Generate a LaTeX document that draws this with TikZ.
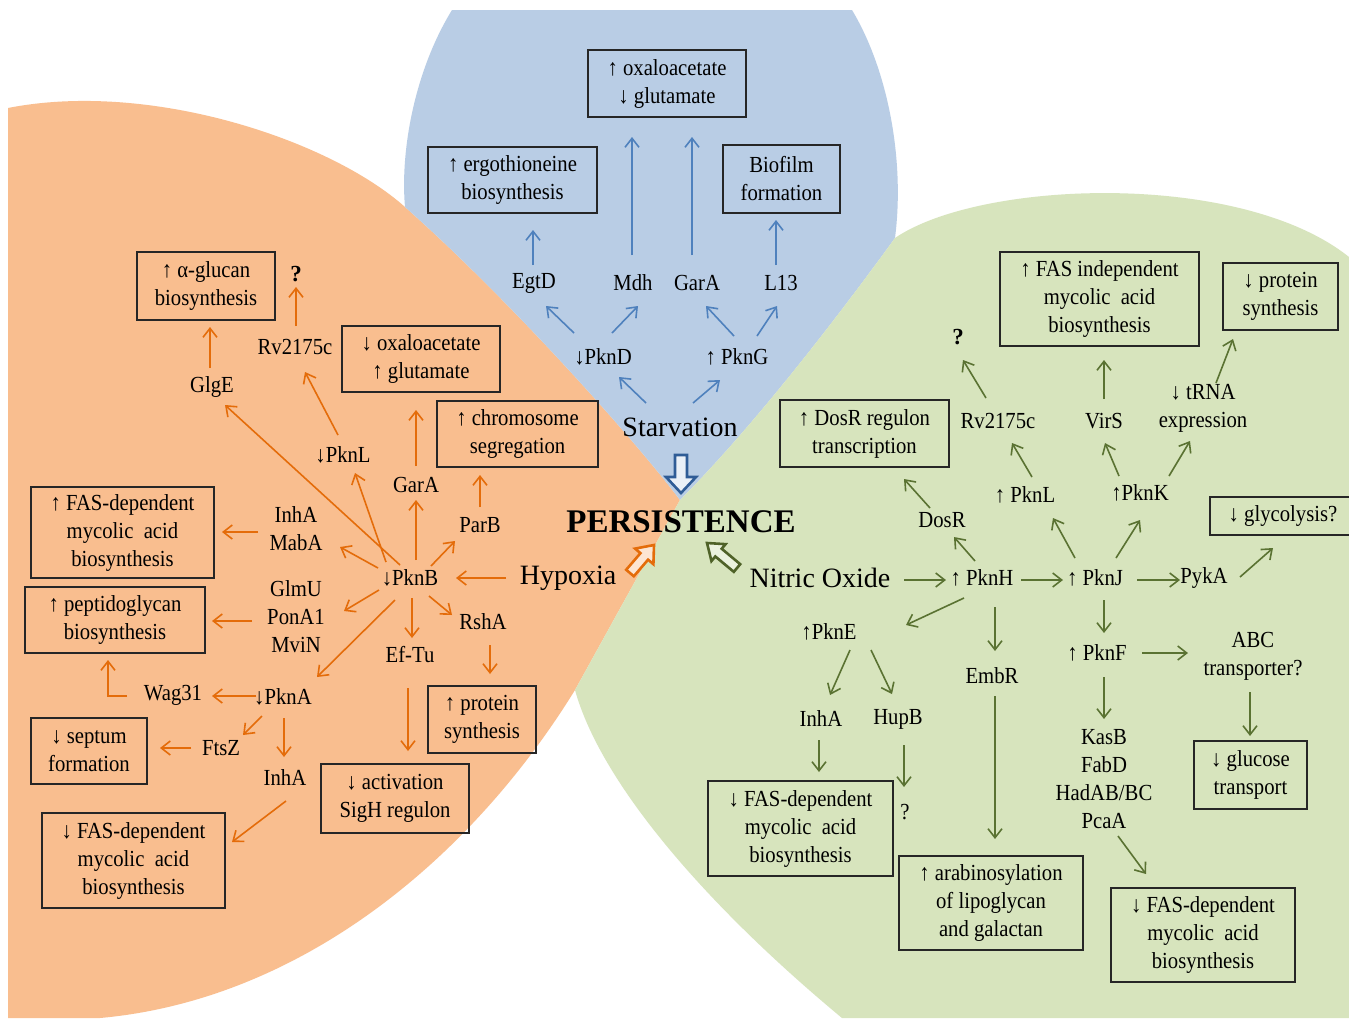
\documentclass[tikz,border=0pt]{standalone}
\usepackage{fontspec}
\setmainfont{Liberation Serif}
\newfontfamily\condf[FakeStretch=0.9]{Liberation Serif}
\usetikzlibrary{arrows.meta}
\definecolor{orfill}{RGB}{249,190,143}
\definecolor{blfill}{RGB}{185,205,229}
\definecolor{grfill}{RGB}{215,228,189}
\definecolor{barrc}{RGB}{79,129,189}
\definecolor{oarrc}{RGB}{228,108,10}
\definecolor{garrc}{RGB}{90,114,50}
\definecolor{bigblue}{RGB}{47,92,150}
\definecolor{biggreen}{RGB}{79,98,40}
\newcommand\myarrow[5]{\draw[#1] ([shift={(#3)}]#2.center) -- ([shift={(#5)}]#4.center);}
\begin{document}
\begin{tikzpicture}[x=0.5pt,y=-0.5pt,
  lbl/.style={font=\condf\fontsize{11.5}{14}\selectfont, align=center, inner sep=0pt, text=black},
  big/.style={font=\fontsize{14}{16}\selectfont, inner sep=0pt, text=black},
  bx/.style 2 args={lbl, draw=black!85, line width=0.9pt, minimum width=#1pt, minimum height=#2pt},
  qq/.style={font=\bfseries\fontsize{11.5}{14}\selectfont, inner sep=0pt},
  tip/.style={-{Straight Barb[length=4.5pt,width=7pt]}},
  barr/.style={draw=barrc, line width=0.8pt, tip},
  oarr/.style={draw=oarrc, line width=0.8pt, tip},
  garr/.style={draw=garrc, line width=0.8pt, tip},
  hollow/.style={line width=1.3pt, line join=miter}]
\useasboundingbox (0,0) rectangle (1349,1018);
\fill[white] (0,0) rectangle (1349,1018);
% regions
\fill[orfill] (680,500) -- (575,690) .. controls (470,860) and (300,1000) .. (100,1018) -- (8,1018) -- (8,108)
  .. controls (150,80) and (330,140) .. (405,207) .. controls (510,300) and (635,440) .. (680,500) -- cycle;
\fill[blfill] (680,500) .. controls (635,440) and (510,300) .. (405,207) .. controls (400,150) and (415,70) .. (452,10)
  -- (852,10) .. controls (888,70) and (905,160) .. (895,238) .. controls (850,300) and (760,420) .. (680,500) -- cycle;
\fill[grfill] (680,500) .. controls (760,420) and (850,300) .. (895,238) .. controls (980,180) and (1240,170) .. (1349,257)
  -- (1349,1018) -- (842,1018) .. controls (700,900) and (600,780) .. (575,690) -- cycle;
% hollow block arrows
\draw[hollow, draw=bigblue, fill=white!70!blfill] (675,455) -- (687,455) -- (687,477) -- (696,477) -- (681,493) -- (666,477) -- (675,477) -- cycle;
\draw[hollow, draw=oarrc, fill=white!60!orfill] (626.2,569.75) -- (633.8,576.25) -- (648.05,559.65) -- (653.4,564.2) -- (654,545) -- (635.1,548.6) -- (640.45,553.15) -- cycle;
\draw[hollow, draw=biggreen, fill=white!50!grfill] (733.8,571.84) -- (740.2,564.16) -- (721.7,548.76) -- (725.54,544.15) -- (707,543) -- (711.46,561.05) -- (715.3,556.44) -- cycle;
% blue nodes
\node[bx={79}{33.5}] (oxaU) at (667,83.5) {↑ oxaloacetate\\↓ glutamate};
\node[bx={84.5}{33}] (ergo) at (512.5,180) {↑ ergothioneine\\biosynthesis};
\node[bx={58.5}{34}] (biofilm) at (781.5,179) {Biofilm\\formation};
\node[lbl] (egtD) at (534,283) {EgtD};
\node[lbl] (mdh) at (633,283) {Mdh};
\node[lbl] (garaB) at (697,283) {GarA};
\node[lbl] (l13) at (781,283) {L13};
\node[lbl] (pknD) at (603,357) {↓PknD};
\node[lbl] (pknG) at (737,357) {↑ PknG};
\node[big] (starv) at (680,427) {Starvation};
% orange nodes
\node[bx={69}{34}] (aglucan) at (206,286) {↑ α-glucan\\biosynthesis};
\node[qq] (qO) at (296,274) {?};
\node[lbl] (rvO) at (295,347) {Rv2175c};
\node[lbl] (glgE) at (212,387) {GlgE};
\node[bx={79}{33}] (oxaD) at (421,359) {↓ oxaloacetate\\↑ glutamate};
\node[bx={80.5}{33}] (chrom) at (517.5,434) {↑ chromosome\\segregation};
\node[lbl] (pknL) at (343,455) {↓PknL};
\node[lbl] (garA) at (416,485) {GarA};
\node[lbl] (parB) at (480,525) {ParB};
\node[lbl] (inhMab) at (296,529) {InhA\\MabA};
\node[bx={91.5}{45.5}] (fasU) at (122.5,532.5) {↑ FAS-dependent\\mycolic~ acid\\biosynthesis};
\node[lbl] (pknB) at (410,578) {↓PknB};
\node[big] (hyp) at (568,578) {Hypoxia};
\node[lbl] (glmU) at (296,617) {GlmU\\PonA1\\MviN};
\node[bx={90}{33}] (pepti) at (115,620) {↑ peptidoglycan\\biosynthesis};
\node[lbl] (rshA) at (483,622) {RshA};
\node[lbl] (efTu) at (410,655) {Ef-Tu};
\node[lbl] (wag31) at (173,695) {Wag31};
\node[lbl] (pknA) at (283,697) {↓PknA};
\node[bx={54}{33.5}] (protO) at (482,719.5) {↑ protein\\synthesis};
\node[bx={58}{33}] (septum) at (89,751) {↓ septum\\formation};
\node[lbl] (ftsZ) at (221,748) {FtsZ};
\node[lbl] (inhA2) at (285,778) {InhA};
\node[bx={74}{34.5}] (sigH) at (395,798.5) {↓ activation\\SigH regulon};
\node[bx={91.5}{47.5}] (fasD) at (133.5,860.5) {↓ FAS-dependent\\mycolic~ acid\\biosynthesis};
% green nodes
\node[bx={99.5}{47}] (fasInd) at (1099.5,299) {↑ FAS independent\\mycolic~ acid\\biosynthesis};
\node[bx={57.5}{33.5}] (protD) at (1280.5,296.5) {↓ protein\\synthesis};
\node[qq] (q2) at (958,337) {?};
\node[lbl] (rv2) at (998,421) {Rv2175c};
\node[lbl] (virS) at (1104,421) {VirS};
\node[lbl] (tRNA) at (1203,408) {↓ tRNA\\expression};
\node[bx={84.5}{33.5}] (dosRbox) at (864.5,433.5) {↑ DosR regulon\\transcription};
\node[lbl] (pknL2) at (1025,495) {↑ PknL};
\node[lbl] (pknK) at (1140,493) {↑PknK};
\node[lbl] (dosR) at (942,520) {DosR};
\node[bx={80}{19}] (glyco) at (1290,516) {↓ glycolysis?\hspace*{7pt}};
\node[big] (no) at (820,578) {Nitric Oxide};
\node[lbl] (pknH) at (982,578) {↑ PknH};
\node[lbl] (pknJ) at (1095,578) {↑ PknJ};
\node[lbl] (pykA) at (1204,578) {PykA};
\node[lbl] (pknE) at (829,632) {↑PknE};
\node[lbl] (embR) at (992,676) {EmbR};
\node[lbl] (pknF) at (1097,653) {↑ PknF};
\node[lbl] (abc) at (1253,656) {ABC\\transporter?};
\node[lbl] (inhA3) at (821,719) {InhA};
\node[lbl] (hupB) at (898,719) {HupB};
\node[lbl] (kasB) at (1104,779) {KasB\\FabD\\HadAB/BC\\PcaA};
\node[lbl] (q3) at (905,812) {?};
\node[bx={56.5}{34}] (glucose) at (1250.5,775) {↓ glucose\\transport};
\node[bx={92.5}{47.5}] (fas3) at (800.5,828.5) {↓ FAS-dependent\\mycolic~ acid\\biosynthesis};
\node[bx={92}{47}] (arab) at (991,903) {↑ arabinosylation\\of lipoglycan\\and galactan};
\node[bx={92}{47}] (fas4) at (1203,935) {↓ FAS-dependent\\mycolic~ acid\\biosynthesis};
% centre
\node[font=\bfseries\fontsize{16.5}{18}\selectfont, inner sep=0pt] (pers) at (681,522) {PERSISTENCE};
% blue arrows
\myarrow{barr}{egtD}{-1,-18}{ergo}{20.5,50}
\myarrow{barr}{mdh}{-1,-28}{oxaU}{-35,53.5}
\myarrow{barr}{garaB}{-5,-28}{oxaU}{25,53.5}
\myarrow{barr}{l13}{-5,-18}{biofilm}{-5.5,41}
\myarrow{barr}{pknD}{-29,-24}{egtD}{12,23}
\myarrow{barr}{pknD}{9,-24}{mdh}{5,23}
\myarrow{barr}{pknG}{-3,-21}{garaB}{9,23}
\myarrow{barr}{pknG}{20,-21}{l13}{-4,23}
\myarrow{barr}{starv}{-34,-24}{pknD}{16,20}
\myarrow{barr}{starv}{13,-24}{pknG}{-17,23}
% orange arrows
\myarrow{oarr}{glgE}{-2,-19}{aglucan}{4,41}
\myarrow{oarr}{rvO}{1,-21}{qO}{0,13}
\myarrow{oarr}{pknB}{-10,-13}{glgE}{13,18}
\myarrow{oarr}{pknL}{-5,-20}{rvO}{10,25}
\myarrow{oarr}{pknB}{-24,-16}{pknL}{12,18}
\myarrow{oarr}{pknB}{6,-18}{garA}{0,15}
\myarrow{oarr}{garA}{0,-19}{oxaD}{-5,51}
\myarrow{oarr}{parB}{0,-18}{chrom}{-37.5,41}
\myarrow{oarr}{pknB}{21,-12}{parB}{-25,16}
\myarrow{oarr}{pknB}{-32,-10}{inhMab}{44,18}
\myarrow{oarr}{inhMab}{-38,3}{fasU}{99.5,-0.5}
\myarrow{oarr}{hyp}{-62,0}{pknB}{46,0}
\myarrow{oarr}{pknB}{-31,12}{glmU}{48,-6}
\myarrow{oarr}{glmU}{-44,4}{pepti}{97,1}
\myarrow{oarr}{pknB}{19,18}{rshA}{-31,-7}
\myarrow{oarr}{pknB}{2,20}{efTu}{2,-17}
\myarrow{oarr}{rshA}{7,23}{protO}{8,-45.5}
\myarrow{oarr}{efTu}{-2,33}{sigH}{13,-47.5}
\myarrow{oarr}{pknB}{-15,22}{pknA}{34,-20}
\myarrow{oarr}{pknA}{-27,-1}{wag31}{39,1}
\draw[oarr] ([shift={(-46,1)}]wag31.center) -| ([shift={(-7,40)}]pepti.center);
\myarrow{oarr}{pknA}{-21,19}{ftsZ}{22,-13}
\myarrow{oarr}{pknA}{1,21}{inhA2}{-1,-21}
\myarrow{oarr}{ftsZ}{-30,0}{septum}{71,-3}
\myarrow{oarr}{inhA2}{1,23}{fasD}{98.5,-18.5}
% green arrows
\myarrow{garr}{rv2}{-12,-23}{q2}{5,23}
\myarrow{garr}{virS}{0,-22}{fasInd}{4.5,61}
\myarrow{garr}{tRNA}{13,-25}{protD}{-47.5,42.5}
\myarrow{garr}{pknL2}{7,-18}{rv2}{14,22}
\myarrow{garr}{pknK}{-21,-17}{virS}{1,22}
\myarrow{garr}{pknK}{29,-17}{tRNA}{-13,33}
\myarrow{garr}{dosR}{-12,-12}{dosRbox}{39.5,45.5}
\myarrow{garr}{pknH}{-7,-17}{dosR}{12,17}
\myarrow{garr}{pknJ}{-20,-20}{pknL2}{28,23}
\myarrow{garr}{pknJ}{21,-20}{pknK}{0,27}
\myarrow{garr}{no}{84,2}{pknH}{-36,2}
\myarrow{garr}{pknH}{39,2}{pknJ}{-32,2}
\myarrow{garr}{pknJ}{42,2}{pykA}{-24,2}
\myarrow{garr}{pykA}{36,-1}{glyco}{-17,32}
\myarrow{garr}{pknH}{-18,20}{pknE}{77,-7}
\myarrow{garr}{pknH}{13,29}{embR}{3,-25}
\myarrow{garr}{pknJ}{9,22}{pknF}{7,-20}
\myarrow{garr}{pknF}{45,0}{abc}{-65,-3}
\myarrow{garr}{abc}{-3,36}{glucose}{-0.5,-39}
\myarrow{garr}{pknF}{7,24}{kasB}{0,-60}
\myarrow{garr}{pknE}{21,18}{inhA3}{9,-24}
\myarrow{garr}{pknE}{42,18}{hupB}{-6,-25}
\myarrow{garr}{inhA3}{-2,21}{fas3}{18.5,-56.5}
\myarrow{garr}{hupB}{6,26}{q3}{-1,-25}
\myarrow{garr}{embR}{3,20}{arab}{4,-64}
\myarrow{garr}{kasB}{14,57}{fas4}{-57,-61}
\end{tikzpicture}
\end{document}
